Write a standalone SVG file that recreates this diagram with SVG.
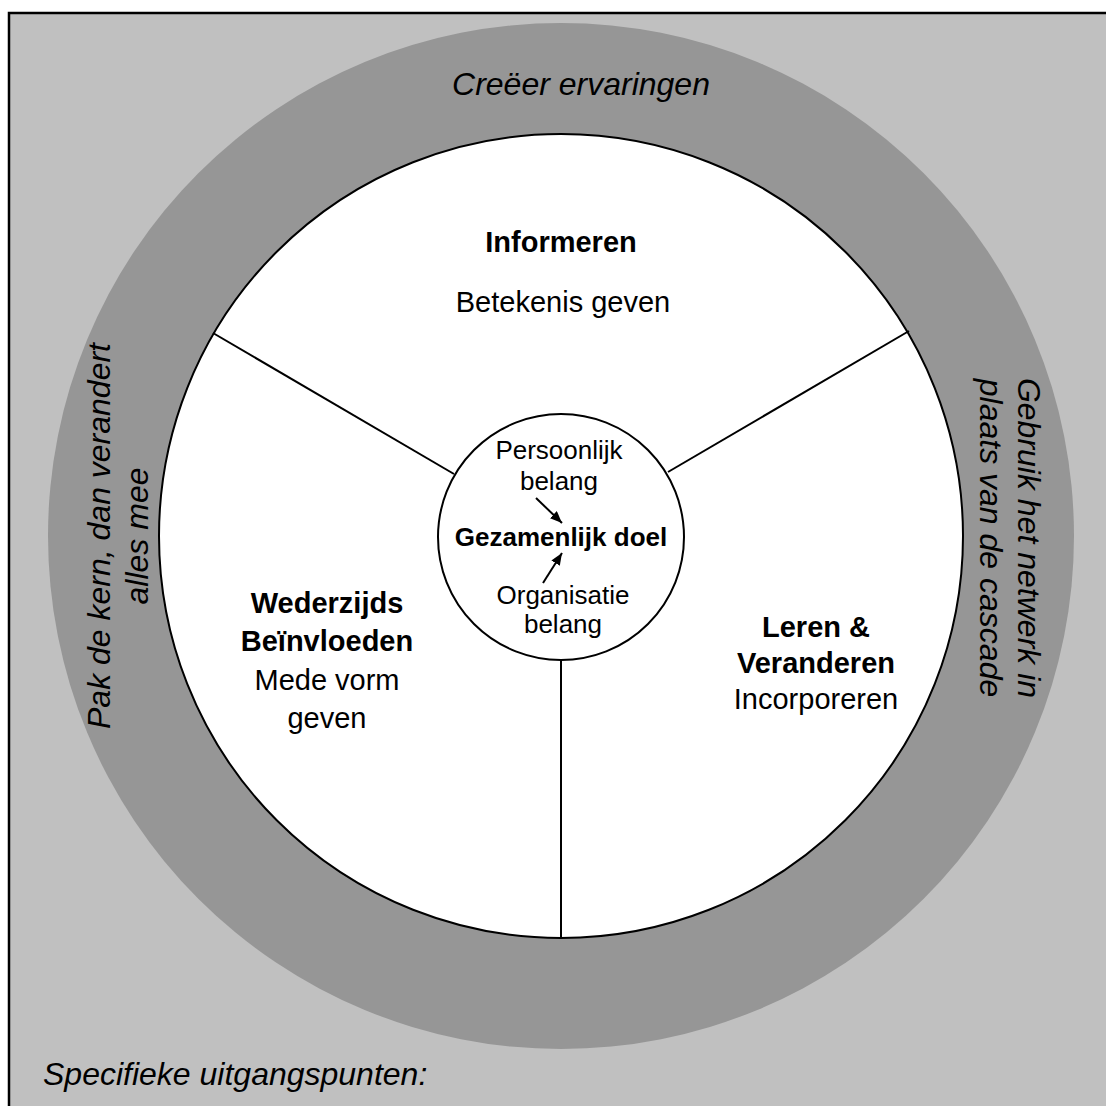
<svg xmlns="http://www.w3.org/2000/svg" width="1106" height="1106" viewBox="0 0 1106 1106">
<defs>
<style>
text{font-family:"Liberation Sans",Arial,sans-serif;fill:#000;text-anchor:middle}
.it{font-style:italic;font-size:32px}
.big{font-size:29px}
.bigb{font-size:29px;font-weight:bold}
.sm{font-size:26px}
.smb{font-size:26px;font-weight:bold}
.ln{stroke:#000;stroke-width:2;fill:none}
</style>
<marker id="ah" viewBox="0 0 12 10" refX="12" refY="5" markerWidth="12" markerHeight="10" markerUnits="userSpaceOnUse" orient="auto">
<path d="M0,0 L12,5 L0,10 z" fill="#000"/>
</marker>
</defs>
<g id="background">
<rect x="9" y="13" width="1110" height="1110" fill="#c0c0c0" stroke="#000" stroke-width="2.5"/>
</g>
<g id="outer-ring">
<circle cx="561" cy="536" r="513" fill="#969696"/>
<text class="it" x="581" y="95">Creëer ervaringen</text>
<text class="it" transform="translate(1018,538) rotate(90)"><tspan x="0" y="0">Gebruik het netwerk in</tspan><tspan x="0" y="38">plaats van de cascade</tspan></text>
<text class="it" transform="translate(110,536) rotate(-90)"><tspan x="0" y="0">Pak de kern, dan verandert</tspan><tspan x="0" y="38">alles mee</tspan></text>
</g>
<g id="inner-circle">
<circle cx="561" cy="536" r="402" fill="#fff" stroke="#000" stroke-width="2"/>
</g>
<g id="node-informeren">
<text class="bigb" x="561" y="252">Informeren</text>
<text class="big" x="563" y="312">Betekenis geven</text>
</g>
<g id="node-wederzijds">
<text class="bigb" x="327" y="613">Wederzijds</text>
<text class="bigb" x="327" y="651">Beïnvloeden</text>
<text class="big" x="327" y="690">Mede vorm</text>
<text class="big" x="327" y="728">geven</text>
</g>
<g id="node-leren">
<text class="bigb" x="816" y="637">Leren &amp;</text>
<text class="bigb" x="816" y="673">Veranderen</text>
<text class="big" x="816" y="709">Incorporeren</text>
</g>
<g id="node-center">
<circle cx="561" cy="537" r="123" fill="#fff" stroke="#000" stroke-width="2"/>
<text class="sm" x="559" y="459">Persoonlijk</text>
<text class="sm" x="559" y="490">belang</text>
<text class="smb" x="561" y="546">Gezamenlijk doel</text>
<text class="sm" x="563" y="604">Organisatie</text>
<text class="sm" x="563" y="633">belang</text>
</g>
<g id="connectors">
<line class="ln" x1="213" y1="333" x2="454" y2="474"/>
<line class="ln" x1="909" y1="331" x2="668" y2="472"/>
<line class="ln" x1="561" y1="660" x2="561" y2="938"/>
<line class="ln" x1="536" y1="498" x2="562" y2="523" marker-end="url(#ah)"/>
<line class="ln" x1="543" y1="583" x2="562" y2="553" marker-end="url(#ah)"/>
</g>
<g id="footer">
<text class="it" x="43" y="1085" style="text-anchor:start">Specifieke uitgangspunten:</text>
</g>
</svg>
